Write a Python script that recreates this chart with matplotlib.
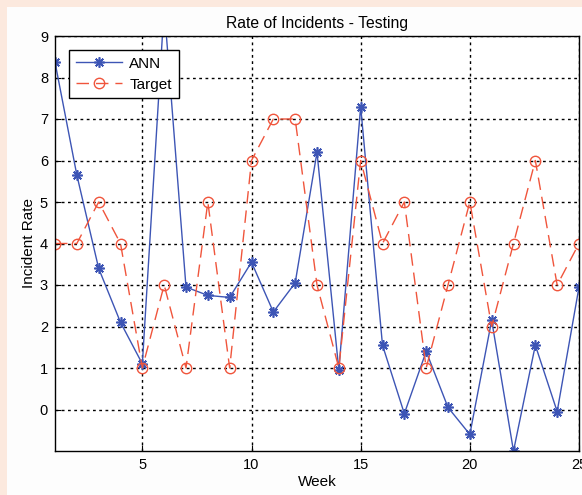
import matplotlib
matplotlib.use("Agg")
import matplotlib.pyplot as plt
from matplotlib.patches import Rectangle

# Weekly values
weeks = list(range(1, 26))
ann = [8.37, 5.65, 3.4, 2.1, 1.1, 9.7, 2.95, 2.75, 2.7, 3.55, 2.35, 3.05, 6.2,
       0.95, 7.3, 1.55, -0.1, 1.4, 0.05, -0.6, 2.15, -1.0, 1.55, -0.05, 2.95]
target = [4, 4, 5, 4, 1, 3, 1, 5, 1, 6, 7, 7, 3, 1, 6, 4, 5, 1, 3, 5, 2, 4, 6, 3, 4]
x_ticks = [5, 10, 15, 20, 25]
y_ticks = list(range(0, 10))

plt.rcParams['font.family'] = ['Liberation Sans', 'DejaVu Sans']

fig = plt.figure(figsize=(5.82, 4.95), dpi=100)
fig.patch.set_facecolor('#fce9de')
# white plot area with a thin peach border on the top and left
bg = Rectangle((7 / 582, 0), 1, 1 - 7 / 495, transform=fig.transFigure,
               facecolor='#fdfdfd', edgecolor='none', zorder=-10)
fig.add_artist(bg)

ax = fig.add_axes([55 / 582, 44 / 495, 524 / 582, 415 / 495])
ax.set_facecolor('white')
ax.plot(weeks, ann, color='#3d55b5', linewidth=1.0, marker=(8, 2, 0), markersize=7.5,
        markeredgewidth=1.2, label='ANN')
ax.plot(weeks, target, color='#f0553c', linewidth=1.0, linestyle=(0, (9, 5)),
        marker='o', markersize=7.5, markerfacecolor='none', markeredgewidth=1.0,
        label='Target')

ax.set_xlim(1, 25)
ax.set_ylim(-1, 9)
ax.set_xticks(x_ticks)
ax.set_yticks(y_ticks)
ax.tick_params(direction='in', labelsize=10.5, length=4, color='black', pad=5)
ax.grid(True, color='black', linestyle=(0, (2, 2.5)), linewidth=1.0)
for sp in ax.spines.values():
    sp.set_linewidth(1.0)
    sp.set_color('black')

ax.set_title('Rate of Incidents - Testing', fontsize=11.3, pad=6)
ax.set_xlabel('Week', fontsize=11, labelpad=2)
ax.set_ylabel('Incident Rate', fontsize=11, labelpad=3)

leg = ax.legend(loc='upper left', bbox_to_anchor=(0.012, 0.985), fontsize=11,
                fancybox=False, framealpha=1, edgecolor='black',
                handlelength=3.0, handletextpad=0.5, borderpad=0.45,
                labelspacing=0.45)
leg.get_frame().set_linewidth(1.0)

fig.savefig('out.png', dpi=100, facecolor=fig.get_facecolor())
